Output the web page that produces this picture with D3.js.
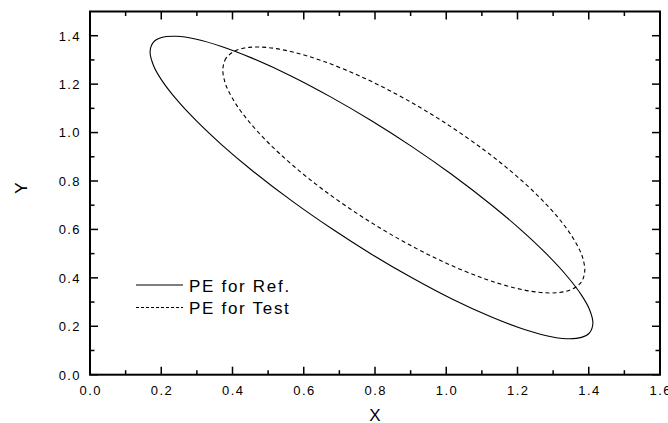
<!DOCTYPE html>
<html>
<head>
<meta charset="utf-8">
<script src="https://cdn.jsdelivr.net/npm/d3@7/dist/d3.min.js"></script>
<style>
  html, body { margin: 0; padding: 0; background: #fff; }
  svg { display: block; font-family: "Liberation Sans", Arial, sans-serif; }
</style>
</head>
<body>
<svg id="chart" width="668" height="423"></svg>
<script>
// ---- Data ----
const seriesNames = ["PE for Ref.", "PE for Test"];

// Ellipse "PE for Ref." points
const refX = [0.1687, 0.1782, 0.2007, 0.2428, 0.2989, 0.3691, 0.4533, 0.5656, 0.6779, 0.7902, 0.9025, 1.0147, 1.1270, 1.2112, 1.2814, 1.3375, 1.3796, 1.4021, 1.4116,
              1.4021, 1.3796, 1.3375, 1.2814, 1.2112, 1.1270, 1.0147, 0.9025, 0.7902, 0.6779, 0.5656, 0.4533, 0.3691, 0.2989, 0.2428, 0.2007, 0.1782];
const refY = [1.3337, 1.3734, 1.3924, 1.3978, 1.3854, 1.3556, 1.3085, 1.2330, 1.1454, 1.0487, 0.9430, 0.8278, 0.7009, 0.5960, 0.4986, 0.4097, 0.3288, 0.2693, 0.2127,
              0.1731, 0.1541, 0.1487, 0.1611, 0.1908, 0.2379, 0.3135, 0.4011, 0.4977, 0.6035, 0.7187, 0.8455, 0.9504, 1.0479, 1.1367, 1.2177, 1.2772];

// Ellipse "PE for Test" points
const testX = [0.3728, 0.3784, 0.3868, 0.4093, 0.4458, 0.5019, 0.5721, 0.6563, 0.7686, 0.8808, 0.9931, 1.1054, 1.1896, 1.2598, 1.3159, 1.3524, 1.3749, 1.3833, 1.3889,
               1.3833, 1.3749, 1.3524, 1.3159, 1.2598, 1.1896, 1.1054, 0.9931, 0.8808, 0.7686, 0.6563, 0.5721, 0.5019, 0.4458, 0.4093, 0.3868, 0.3784];
const testY = [1.2582, 1.2974, 1.3159, 1.3388, 1.3519, 1.3507, 1.3316, 1.2938, 1.2258, 1.1419, 1.0434, 0.9290, 0.8301, 0.7352, 0.6452, 0.5727, 0.5134, 0.4812, 0.4329,
               0.3936, 0.3752, 0.3523, 0.3391, 0.3404, 0.3594, 0.3973, 0.4653, 0.5492, 0.6477, 0.7620, 0.8609, 0.9559, 1.0459, 1.1183, 1.1776, 1.2098];

const xTickValues = [0.0, 0.2, 0.4, 0.6, 0.8, 1.0, 1.2, 1.4, 1.6];
const xMinorValues = [0.1, 0.3, 0.5, 0.7, 0.9, 1.1, 1.3, 1.5];
const yTickValues = [0.0, 0.2, 0.4, 0.6, 0.8, 1.0, 1.2, 1.4];
const yMinorValues = [0.1, 0.3, 0.5, 0.7, 0.9, 1.1, 1.3];
const xDomain = [0, 1.6];
const yDomain = [0, 1.5];
const xLabel = "X";
const yLabel = "Y";

(function () {
// ---- Layout ----
const svg = d3.select("#chart");
const pL = 90, pR = 660, pT = 11.5, pB = 374.7;

const x = d3.scaleLinear().domain(xDomain).range([pL, pR]);
const y = d3.scaleLinear().domain(yDomain).range([pB, pT]);

const fmt = d3.format(".1f");

// Ticks (inward on all four sides)
const g = svg.append("g");
function tickLines(vals, len, side) {
  vals.forEach(v => {
    if (side === "bottom") g.append("line").attr("x1", x(v)).attr("x2", x(v)).attr("y1", pB).attr("y2", pB - len);
    if (side === "top") g.append("line").attr("x1", x(v)).attr("x2", x(v)).attr("y1", pT).attr("y2", pT + len);
    if (side === "left") g.append("line").attr("y1", y(v)).attr("y2", y(v)).attr("x1", pL).attr("x2", pL + len);
    if (side === "right") g.append("line").attr("y1", y(v)).attr("y2", y(v)).attr("x1", pR).attr("x2", pR - len);
  });
}
["bottom", "top"].forEach(s => { tickLines(xTickValues, 8, s); tickLines(xMinorValues, 4.5, s); });
["left", "right"].forEach(s => { tickLines(yTickValues, 8, s); tickLines(yMinorValues, 4.5, s); });
g.selectAll("line").attr("stroke", "#000").attr("stroke-width", 1.5);

// Frame
svg.append("rect")
  .attr("x", pL).attr("y", pT)
  .attr("width", pR - pL).attr("height", pB - pT)
  .attr("fill", "none").attr("stroke", "#000").attr("stroke-width", 2);

// Tick labels
svg.append("g").selectAll("text").data(xTickValues).join("text")
  .attr("x", d => x(d) + 0.7).attr("y", pB + 20.5)
  .attr("text-anchor", "middle")
  .attr("font-size", 13).attr("letter-spacing", 1.4)
  .attr("fill", "#000")
  .text(d => fmt(d));

svg.append("g").selectAll("text").data(yTickValues).join("text")
  .attr("x", pL - 9).attr("y", d => y(d) + 4.8)
  .attr("text-anchor", "end")
  .attr("font-size", 13).attr("letter-spacing", 1.4)
  .attr("fill", "#000")
  .text(d => fmt(d));

// Axis titles
svg.append("text")
  .attr("x", (pL + pR) / 2).attr("y", 421)
  .attr("text-anchor", "middle").attr("font-size", 17)
  .text(xLabel);
svg.append("text")
  .attr("transform", `translate(${27},${188}) rotate(-90)`)
  .attr("text-anchor", "middle").attr("font-size", 17)
  .text(yLabel);

// Ellipse curves
const line = d3.line().x(d => x(d[0])).y(d => y(d[1])).curve(d3.curveCatmullRomClosed.alpha(0.5));
const refPts = refX.map((v, i) => [v, refY[i]]);
const testPts = testX.map((v, i) => [v, testY[i]]);

svg.append("path").attr("d", line(refPts))
  .attr("fill", "none").attr("stroke", "#000").attr("stroke-width", 1.1);
svg.append("path").attr("d", line(testPts))
  .attr("fill", "none").attr("stroke", "#000").attr("stroke-width", 1.1)
  .attr("stroke-dasharray", "4,3");

// Legend
const legend = svg.append("g");
const legY = [285, 307.5];
const dashes = [null, "3,2"];
seriesNames.forEach((name, i) => {
  legend.append("line")
    .attr("x1", 136).attr("x2", 183)
    .attr("y1", legY[i]).attr("y2", legY[i])
    .attr("stroke", "#000").attr("stroke-width", 1.1)
    .attr("stroke-dasharray", dashes[i]);
  legend.append("text")
    .attr("x", 189).attr("y", legY[i] + 6.5)
    .attr("font-size", 17).attr("letter-spacing", 1.7)
    .attr("fill", "#000")
    .text(name);
});
})();
</script>
</body>
</html>
